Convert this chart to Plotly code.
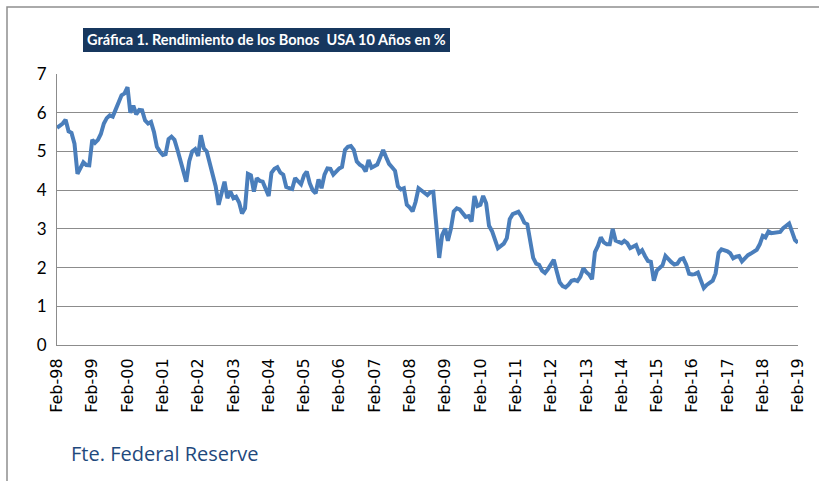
import pandas as pd
import plotly.graph_objects as go

# Monthly 10-year US Treasury yield (%), Feb-1998 .. Feb-2019
yields = [
    5.61, 5.66, 5.72, 5.82, 5.52, 5.48, 5.20, 4.42, 4.56, 4.72, 4.65, 4.64,   # Feb98-Jan99
    5.30, 5.22, 5.30, 5.45, 5.72, 5.86, 5.93, 5.90, 6.08, 6.28, 6.45, 6.50,   # Feb99-Jan00
    6.66, 6.00, 6.18, 5.96, 6.07, 6.06, 5.80, 5.72, 5.76, 5.50, 5.12, 5.00,   # Feb00-Jan01
    4.91, 4.93, 5.32, 5.38, 5.30, 5.05, 4.75, 4.50, 4.22, 4.75, 5.00, 5.06,   # Feb01-Jan02
    4.88, 5.42, 5.08, 5.00, 4.70, 4.40, 4.10, 3.62, 3.95, 4.22, 3.79, 3.96,   # Feb02-Jan03
    3.79, 3.83, 3.68, 3.40, 3.53, 4.42, 4.38, 3.96, 4.31, 4.24, 4.22, 4.05,   # Feb03-Jan04
    3.85, 4.45, 4.55, 4.59, 4.45, 4.40, 4.08, 4.05, 4.03, 4.31, 4.22, 4.15,   # Feb04-Jan05
    4.38, 4.48, 4.18, 4.00, 3.92, 4.28, 4.05, 4.40, 4.56, 4.55, 4.40, 4.50,   # Feb05-Jan06
    4.56, 4.60, 5.04, 5.12, 5.14, 5.04, 4.74, 4.66, 4.61, 4.48, 4.78, 4.58,   # Feb06-Jan07
    4.62, 4.66, 4.85, 5.04, 4.85, 4.68, 4.59, 4.50, 4.10, 4.02, 4.05, 3.62,   # Feb07-Jan08
    3.55, 3.45, 3.70, 4.05, 3.99, 3.93, 3.87, 3.95, 3.96, 3.10, 2.25, 2.84,   # Feb08-Jan09
    3.01, 2.69, 3.00, 3.45, 3.53, 3.50, 3.40, 3.31, 3.33, 3.19, 3.85, 3.59,   # Feb09-Jan10
    3.62, 3.85, 3.66, 3.08, 2.94, 2.75, 2.50, 2.56, 2.62, 2.76, 3.25, 3.38,   # Feb10-Jan11
    3.42, 3.44, 3.32, 3.16, 3.12, 2.70, 2.25, 2.10, 2.07, 1.92, 1.86, 1.96,   # Feb11-Jan12
    2.10, 2.20, 1.90, 1.62, 1.52, 1.49, 1.56, 1.66, 1.68, 1.65, 1.76, 1.98,   # Feb12-Jan13
    1.88, 1.82, 1.70, 2.40, 2.56, 2.78, 2.65, 2.60, 2.60, 3.00, 2.70, 2.66,   # Feb13-Jan14
    2.63, 2.69, 2.63, 2.50, 2.54, 2.58, 2.38, 2.45, 2.30, 2.17, 2.15, 1.66,   # Feb14-Jan15
    1.92, 1.98, 2.06, 2.30, 2.20, 2.14, 2.08, 2.10, 2.21, 2.24, 2.08, 1.84,   # Feb15-Jan16
    1.82, 1.83, 1.87, 1.70, 1.47, 1.55, 1.60, 1.66, 1.85, 2.38, 2.47, 2.45,   # Feb16-Jan17
    2.42, 2.37, 2.24, 2.28, 2.30, 2.16, 2.25, 2.32, 2.36, 2.40, 2.46, 2.60,   # Feb17-Jan18
    2.82, 2.78, 2.93, 2.89, 2.90, 2.90, 2.92, 3.02, 3.08, 3.14, 2.93, 2.71,   # Feb18-Jan19
    2.64,                                                                      # Feb19
]
months = pd.date_range("1998-02-01", periods=len(yields), freq="MS")

tick_dates = pd.date_range("1998-02-01", "2019-02-01", freq="12MS")
tick_labels = ["Feb-98", "Feb-99", "Feb-00", "Feb-01", "Feb-02", "Feb-03", "Feb-04",
               "Feb-05", "Feb-06", "Feb-07", "Feb-08", "Feb-09", "Feb-10", "Feb-11",
               "Feb-12", "Feb-13", "Feb-14", "Feb-15", "Feb-16", "Feb-17", "Feb-18", "Feb-19"]

title_text = "Gráfica 1. Rendimiento de los Bonos  USA 10 Años en %"
source_text = "Fte. Federal Reserve"

W, H = 819, 481
L, R, T, B = 57, 21, 74, 136
PW, PH = W - L - R, H - T - B

def px(x):
    return (x - L) / PW

def py(y):
    return (H - B - y) / PH

fig = go.Figure()
fig.add_trace(go.Scatter(
    x=months, y=yields, mode="lines",
    line=dict(color="#4A7EBB", width=4, shape="linear"),
    hoverinfo="skip", showlegend=False,
))

grid = "#8C8C8C"
fig.update_layout(
    width=W, height=H,
    margin=dict(l=L, r=R, t=T, b=B, autoexpand=False),
    paper_bgcolor="white", plot_bgcolor="white",
    font=dict(family="Lato, Arial, sans-serif", color="black"),
    xaxis=dict(
        type="date",
        range=[months[0], months[-1]],
        tickvals=list(tick_dates), ticktext=tick_labels,
        tickangle=-90, showgrid=False, zeroline=False,
        showline=True, linecolor=grid, linewidth=1,
        ticks="", tickfont=dict(size=16, family="DejaVu Sans, sans-serif"),
        ticklabelstandoff=6, automargin=False,
    ),
    yaxis=dict(
        range=[0, 7], dtick=1, tick0=0,
        showgrid=True, gridcolor=grid, gridwidth=1,
        zeroline=False, showline=True, linecolor=grid, linewidth=1,
        ticks="", tickfont=dict(size=17, family="Lato, sans-serif"),
        ticklabelstandoff=6, automargin=False,
    ),
    shapes=[
        dict(type="rect", xref="paper", yref="paper",
             x0=px(7), x1=px(W + 10), y0=py(H + 10), y1=py(7),
             line=dict(color="#8F8F8F", width=1.5), fillcolor="rgba(0,0,0,0)", layer="below"),
        dict(type="rect", xref="paper", yref="paper",
             x0=px(83), x1=px(450), y0=py(52), y1=py(28),
             line=dict(width=0), fillcolor="#17375E", layer="above"),
    ],
    annotations=[
        dict(text="<b>" + title_text + "</b>", xref="paper", yref="paper",
             x=px(266), y=py(40), xanchor="center", yanchor="middle",
             showarrow=False, font=dict(size=14.5, color="white", family="Lato, sans-serif")),
        dict(text=source_text, xref="paper", yref="paper",
             x=px(69), y=py(453), xanchor="left", yanchor="middle",
             showarrow=False, font=dict(size=20, color="#1F497D", family="Open Sans, sans-serif")),
    ],
)

fig.write_html(
    "out.html",
    config={"displayModeBar": False, "staticPlot": True},
    post_script="document.body.style.margin='0';document.body.style.overflow='hidden';",
)
